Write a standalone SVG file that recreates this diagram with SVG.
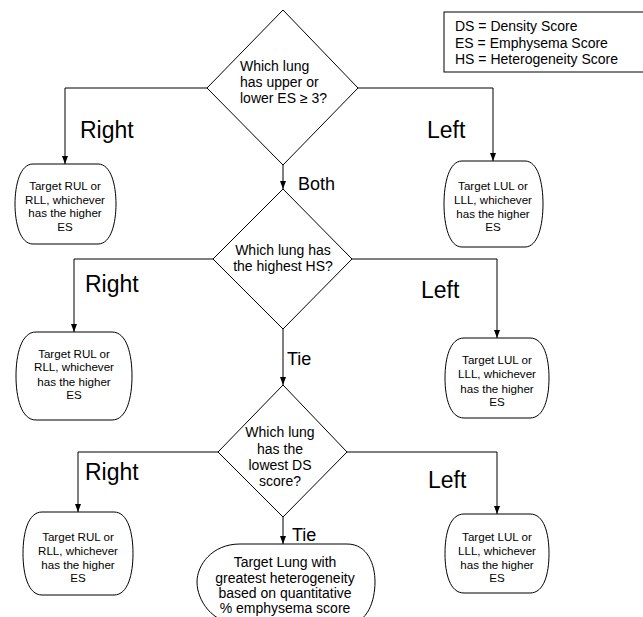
<svg xmlns="http://www.w3.org/2000/svg" width="643" height="617" viewBox="0 0 643 617">
<style>
.sh{fill:#fff;stroke:#000;stroke-width:1}
.ln{fill:none;stroke:#000;stroke-width:1;marker-end:url(#ah)}
text{font-family:"Liberation Sans",Arial,sans-serif;fill:#000}
.q{font-size:14px}
.b{font-size:11.6px;text-anchor:middle}
.big{font-size:23px}
.mid{font-size:18px}
.c{text-anchor:middle}
</style>
<defs>
<marker id="ah" markerUnits="userSpaceOnUse" markerWidth="8" markerHeight="8" viewBox="0 0 8 8" refX="8" refY="4" orient="auto">
<path d="M0,1 L8,4 L0,7 Z" fill="#000"/>
</marker>
</defs>
<rect width="643" height="617" fill="#fff"/>

<g id="connectors">
<path class="ln" d="M207,88 H65 V164"/>
<path class="ln" d="M358,88 H493 V161"/>
<path class="ln" d="M283,165 V189"/>
<path class="ln" d="M213,259 H74 V332"/>
<path class="ln" d="M352,259 H497 V338"/>
<path class="ln" d="M283,329 V385"/>
<path class="ln" d="M218,452 H78 V512"/>
<path class="ln" d="M347,452 H497 V514"/>
<path class="ln" d="M283,517 V544"/>
<text class="big" x="80" y="138">Right</text>
<text class="big" x="427" y="138">Left</text>
<text class="mid" x="298" y="190">Both</text>
<text class="big" x="85" y="292">Right</text>
<text class="big" x="421" y="298">Left</text>
<text class="mid" x="287" y="365">Tie</text>
<text class="big" x="85" y="480">Right</text>
<text class="big" x="428" y="488">Left</text>
<text class="mid" x="292" y="541">Tie</text>
</g>

<g id="legend">
<rect class="sh" x="444" y="12" width="210" height="60"/>
<text class="q" x="455" y="31">DS = Density Score</text>
<text class="q" x="455" y="47.5">ES = Emphysema Score</text>
<text class="q" x="455" y="64">HS = Heterogeneity Score</text>
</g>

<g id="d1">
<polygon class="sh" points="283,10 358,88 283,165 207,88"/>
<text class="q" x="240" y="71">Which lung</text>
<text class="q" x="240" y="87">has upper or</text>
<text class="q" x="240" y="103">lower ES ≥ 3?</text>
</g>

<g id="d2">
<polygon class="sh" points="283,189 352,259 283,329 213,259"/>
<text class="q c" x="283" y="254.5">Which lung has</text>
<text class="q c" x="283" y="271">the highest HS?</text>
</g>

<g id="d3">
<polygon class="sh" points="283,385 347,452 283,517 218,452"/>
<text class="q c" x="280" y="437">Which lung</text>
<text class="q c" x="280" y="453.5">has the</text>
<text class="q c" x="280" y="470">lowest DS</text>
<text class="q c" x="280" y="486">score?</text>
</g>

<g id="r1">
<path class="sh" d="M33,164 H98 C111,164 116,185 116,204 C116,223 111,244 98,244 H33 C20,244 15,223 15,204 C15,185 20,164 33,164 Z"/>
<text class="b" x="65" y="190">Target RUL or</text>
<text class="b" x="65" y="203.5">RLL, whichever</text>
<text class="b" x="65" y="217">has the higher</text>
<text class="b" x="65" y="230.5">ES</text>
</g>

<g id="l1">
<path class="sh" d="M462,161 H525 C538,161 543,183 543,204 C543,225 538,247 525,247 H462 C449,247 444,225 444,204 C444,183 449,161 462,161 Z"/>
<text class="b" x="493" y="189.5">Target LUL or</text>
<text class="b" x="493" y="203.5">LLL, whichever</text>
<text class="b" x="493" y="217.5">has the higher</text>
<text class="b" x="493" y="231">ES</text>
</g>

<g id="r2">
<path class="sh" d="M36,332 H112 C127,332 132,355 132,376 C132,397 127,420 112,420 H36 C21,420 16,397 16,376 C16,355 21,332 36,332 Z"/>
<text class="b" x="74" y="357.5">Target RUL or</text>
<text class="b" x="74" y="371">RLL, whichever</text>
<text class="b" x="74" y="385.5">has the higher</text>
<text class="b" x="74" y="399">ES</text>
</g>

<g id="l2">
<path class="sh" d="M464,338 H530 C544,338 549,358 549,378 C549,398 544,418 530,418 H464 C450,418 445,398 445,378 C445,358 450,338 464,338 Z"/>
<text class="b" x="497" y="364">Target LUL or</text>
<text class="b" x="497" y="378">LLL, whichever</text>
<text class="b" x="497" y="392.5">has the higher</text>
<text class="b" x="497" y="406">ES</text>
</g>

<g id="r3">
<path class="sh" d="M42,512 H114 C128,512 133,533 133,553.5 C133,574 128,595 114,595 H42 C28,595 23,574 23,553.5 C23,533 28,512 42,512 Z"/>
<text class="b" x="78" y="541">Target RUL or</text>
<text class="b" x="78" y="554.5">RLL, whichever</text>
<text class="b" x="78" y="568.5">has the higher</text>
<text class="b" x="78" y="582">ES</text>
</g>

<g id="l3">
<path class="sh" d="M464,514 H530 C544,514 549,533 549,553.5 C549,574 544,593 530,593 H464 C450,593 445,574 445,553.5 C445,533 450,514 464,514 Z"/>
<text class="b" x="497" y="541">Target LUL or</text>
<text class="b" x="497" y="554.5">LLL, whichever</text>
<text class="b" x="497" y="568.5">has the higher</text>
<text class="b" x="497" y="582">ES</text>
</g>

<g id="t3">
<path class="sh" d="M240,544 H347 C368,544 375,565 375,582 C375,600 368,624 347,624 H240 C212,624 197,600 197,582 C197,565 212,544 240,544 Z"/>
<text class="q c" x="285" y="567">Target Lung with</text>
<text class="q c" x="285" y="582.5">greatest heterogeneity</text>
<text class="q c" x="285" y="598">based on quantitative</text>
<text class="q c" x="285" y="613">% emphysema score</text>
</g>
</svg>
